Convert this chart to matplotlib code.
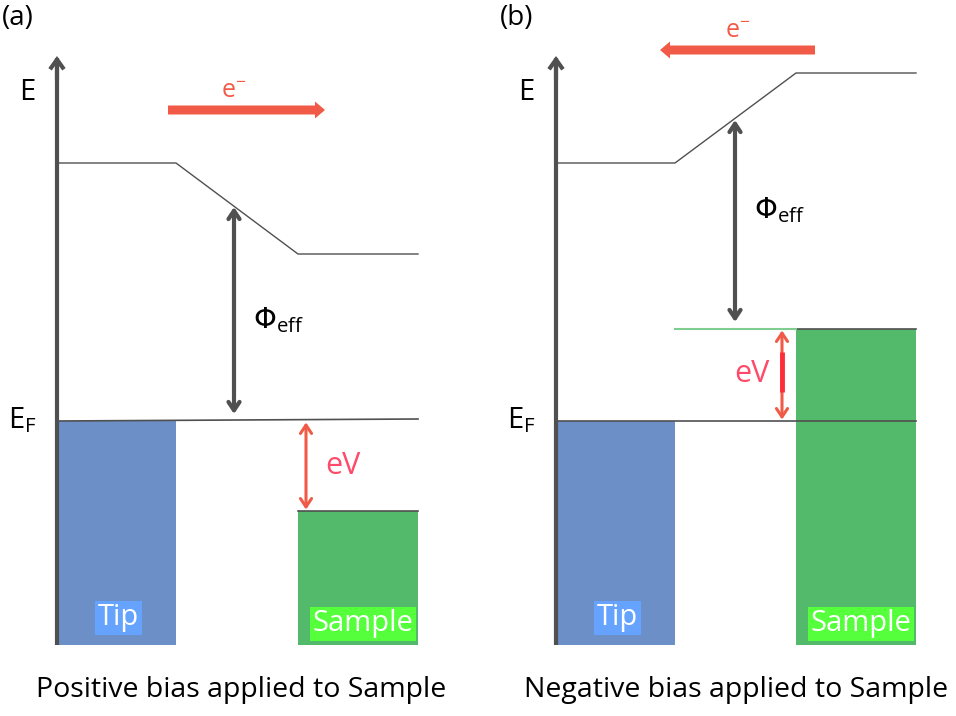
import matplotlib.pyplot as plt
from matplotlib.patches import Rectangle, FancyArrowPatch

plt.rcParams['font.family'] = ['Open Sans', 'DejaVu Sans']

# energy diagram values (image units, y grows downward)
panel_x0 = [57, 556]          # energy axis position
tip_right = [176, 675]
sample_left = [298, 796]
sample_right = [418, 916]
bottom = 645
vac_tip = [163, 163]          # vacuum level over tip
vac_sample = [254, 73]        # vacuum level over sample
fermi_tip = [421, 421]
fermi_sample = [511, 329]
phi_x = [234, 735]
phi_top = [207, 120]
phi_bot = [414, 322]
ev_x = [306, 782]
e_arrow = [(168, 325, 110), (815, 660, 50)]
panel_tags = ['(a)', '(b)']
captions = ['Positive bias applied to Sample', 'Negative bias applied to Sample']
caption_x = [241, 736]

grey = '#505050'
blue = '#6b8fc6'
green = '#53b96b'
red = '#f05a46'
pink = '#ff4a6a'

fig = plt.figure(figsize=(9.56, 7.16), dpi=100)
ax = fig.add_axes([0, 0, 1, 1])
ax.set_xlim(0, 956)
ax.set_ylim(716, 0)
ax.axis('off')

for i in range(2):
    x0 = panel_x0[i]
    # bands
    ax.add_patch(Rectangle((x0, fermi_tip[i]), tip_right[i] - x0, bottom - fermi_tip[i],
                           color=blue, lw=0))
    ax.add_patch(Rectangle((sample_left[i], fermi_sample[i]), sample_right[i] - sample_left[i],
                           bottom - fermi_sample[i], color=green, lw=0))
    # energy axis
    ax.plot([x0, x0], [bottom, 58], color=grey, lw=3, solid_capstyle='butt')
    ax.add_patch(FancyArrowPatch((x0, 80), (x0, 56), arrowstyle='->,head_length=7,head_width=5',
                                 mutation_scale=1, color=grey, lw=3, shrinkA=0, shrinkB=0,
                                 capstyle='butt', joinstyle='miter'))
    ax.text(x0 - 30, 92, 'E', fontsize=21, ha='center', va='center')
    ax.text(x0 - 35, 420, 'E$_\\mathregular{F}$', fontsize=21, ha='center', va='center')
    ax.text(x0 - 39, 18, panel_tags[i], fontsize=20, ha='center', va='center')
    # vacuum level
    ax.plot([x0, tip_right[i], sample_left[i], sample_right[i]],
            [vac_tip[i], vac_tip[i], vac_sample[i], vac_sample[i]], color=grey, lw=1)
    # fermi levels
    ax.plot([x0, sample_right[i]], [fermi_tip[i], fermi_tip[i] - (2 if i == 0 else 0)], color=grey, lw=1.2)
    ax.plot([sample_left[i], sample_right[i]], [fermi_sample[i], fermi_sample[i]], color=grey, lw=1.2)
    if i == 1:
        ax.plot([tip_right[i], sample_left[i]], [fermi_sample[i], fermi_sample[i]], color='#7fce8f', lw=1.5)
    # work function arrow
    ax.add_patch(FancyArrowPatch((phi_x[i], phi_bot[i]), (phi_x[i], phi_top[i]),
                                 arrowstyle='<->,head_length=6,head_width=4', mutation_scale=1,
                                 color=grey, lw=3, shrinkA=0, shrinkB=0))
    ax.text(phi_x[i] + 19, [320, 210][i], '$\\Phi_{\\mathregular{eff}}$', fontsize=21,
            ha='left', va='center')
    # bias arrow
    ax.add_patch(FancyArrowPatch((ev_x[i], fermi_sample[i] if i == 0 else fermi_tip[i]),
                                 (ev_x[i], fermi_tip[i] if i == 0 else fermi_sample[i]),
                                 arrowstyle='<->,head_length=6,head_width=4', mutation_scale=1,
                                 color=red, lw=2.2, shrinkA=1, shrinkB=1))
    if i == 1:
        ax.plot([ev_x[i], ev_x[i]], [352, 392], color='#ff2d3a', lw=3.5, solid_capstyle='butt')
    ax.text([343, 752][i], [466, 374][i], 'eV', fontsize=22, color=pink, ha='center', va='center')
    # electron flow
    xs, xe, ye = e_arrow[i]
    ax.arrow(xs, ye, xe - xs, 0, width=9, head_width=17, head_length=10,
             length_includes_head=True, color=red, lw=0)
    ax.text((xs + xe) / 2 - [13, 0][i], ye - 19, 'e$^{\\mathregular{-}}$', fontsize=18, color=red,
            ha='center', va='center')
    # labels
    ax.text((x0 + tip_right[i]) / 2 + 2, 618, 'Tip', fontsize=21, color='white', ha='center', va='center',
            bbox=dict(boxstyle='square,pad=0.1', fc='#66a3ff', ec='none'))
    ax.text((sample_left[i] + sample_right[i]) / 2 + 5, 624, 'Sample', fontsize=21, color='white',
            ha='center', va='center', bbox=dict(boxstyle='square,pad=0.1', fc='#55ff3c', ec='none'))
    ax.text(caption_x[i], 690, captions[i], fontsize=20.5, ha='center', va='center')

fig.savefig('out.png', dpi=100)
